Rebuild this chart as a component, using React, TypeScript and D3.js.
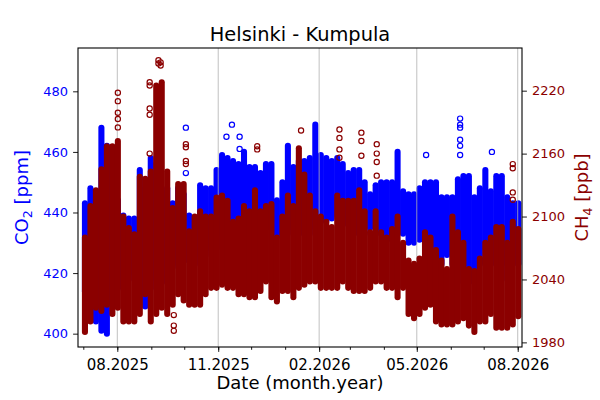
import React, { useEffect, useRef } from 'react';
import * as d3 from 'd3';

const firstBinDay = '2025-06-30';
const binDays = 5;

// CO2 [ppm]: lower and upper edge of the point cloud in each bin
const co2Low = [
  414, 411, 404, 401, 400, 413, 415, 418, 418, 420,
  409, 409, 415, 418, 417, 417, 422, 423, 424, 424,
  426, 423, 426, 428, 428, 433, 431, 433, 433, 437,
  437, 437, 437, 435, 438, 432, 433, 435, 433, 433,
  433, 435, 433, 437, 437, 438, 439, 436, 436, 433,
  433, 433, 435, 433, 433, 431, 431, 433, 433, 430,
  430, 431, 431, 425, 424, 423, 426, 423, 423, 417,
  417, 417, 423, 428, 423, 423, 423, 418, 423, 423,
];
const co2High = [
  443, 448, 447, 468, 462, 452, 444, 439, 438, 438,
  454, 448, 458, 456, 447, 448, 443, 448, 446, 439,
  438, 449, 448, 448, 454, 459, 458, 457, 456, 460,
  455, 455, 453, 456, 456, 444, 450, 462, 455, 457,
  457, 458, 469, 459, 458, 457, 458, 456, 453, 454,
  454, 450, 446, 449, 450, 450, 450, 460, 447, 446,
  446, 448, 450, 450, 450, 445, 445, 445, 451, 452,
  452, 445, 448, 454, 447, 452, 452, 445, 443, 443,
];

// CH4 [ppb]: same bins
const ch4Low = [
  1990, 2000, 2013, 2010, 2016, 2007, 2013, 2000, 2000, 2000,
  2007, 2026, 2000, 2007, 2013, 2007, 2016, 2026, 2020, 2016,
  2016, 2016, 2026, 2032, 2032, 2035, 2032, 2032, 2026, 2026,
  2023, 2023, 2029, 2038, 2023, 2019, 2029, 2029, 2023, 2032,
  2035, 2038, 2038, 2032, 2032, 2032, 2032, 2038, 2032, 2029,
  2029, 2029, 2032, 2038, 2038, 2032, 2032, 2023, 2032, 2007,
  2003, 2007, 2013, 2016, 2000, 1997, 1997, 1997, 2000, 2003,
  1996, 1990, 2000, 2000, 2007, 1994, 1994, 1994, 1997, 2005,
];
const ch4High = [
  2080, 2110, 2125, 2145, 2167, 2167, 2172, 2100, 2089, 2083,
  2138, 2136, 2143, 2225, 2228, 2143, 2108, 2131, 2131, 2086,
  2100, 2105, 2100, 2100, 2118, 2120, 2115, 2095, 2098, 2110,
  2105, 2125, 2105, 2110, 2112, 2080, 2100, 2120, 2110, 2165,
  2140, 2120, 2105, 2100, 2095, 2090, 2120, 2115, 2115, 2115,
  2125, 2105, 2085, 2105, 2085, 2080, 2088, 2100, 2075, 2058,
  2055, 2060, 2085, 2080, 2068, 2058, 2050, 2100, 2085, 2075,
  2050, 2048, 2060, 2075, 2080, 2090, 2090, 2075, 2095, 2088,
];

// single points standing out of the cloud
const co2SpikeDays = [
  '2025-10-02', '2025-10-02', '2025-11-08', '2025-11-13', '2025-11-20', '2025-11-20',
  '2026-05-09', '2026-06-09', '2026-06-09', '2026-06-09', '2026-06-09', '2026-06-09',
  '2026-06-09', '2026-07-08',
];
const co2SpikeValues = [468, 453, 465, 469, 465, 461, 459, 471, 469, 468, 464, 462, 459, 460];

const ch4SpikeDays = [
  '2025-08-01', '2025-08-01', '2025-08-01', '2025-08-01', '2025-08-01',
  '2025-08-30', '2025-08-30', '2025-08-30', '2025-08-30', '2025-08-30',
  '2025-09-07', '2025-09-07', '2025-09-09', '2025-09-09',
  '2025-09-21', '2025-09-21', '2025-09-21',
  '2025-10-02', '2025-10-02', '2025-10-02', '2025-10-02',
  '2025-12-06', '2025-12-06', '2026-01-15',
  '2026-02-19', '2026-02-19', '2026-02-19', '2026-02-19',
  '2026-03-11', '2026-03-11', '2026-03-11',
  '2026-03-25', '2026-03-25', '2026-03-25', '2026-03-25',
  '2026-07-27', '2026-07-27', '2026-07-27', '2026-07-27',
];
const ch4SpikeValues = [
  2218, 2210, 2199, 2193, 2185,
  2228, 2225, 2203, 2197, 2160,
  2249, 2246, 2247, 2244,
  2006, 1996, 1991,
  2169, 2166, 2153, 2150,
  2167, 2164, 2182,
  2183, 2175, 2164, 2156,
  2180, 2172, 2158,
  2169, 2160, 2152, 2139,
  2150, 2146, 2123, 2116,
];

const monthTicks = ['2025-08-01', '2025-11-01', '2026-02-01', '2026-05-01', '2026-08-01'];
const co2Ticks = [400, 420, 440, 460, 480];
const ch4Ticks = [1980, 2040, 2100, 2160, 2220];

const CO2_COLOR = '#0000ff';
const CH4_COLOR = '#8b0000';
const FONT = 'DejaVu Sans, sans-serif';

const App: React.FC = () => {
  const ref = useRef<SVGSVGElement>(null);

  useEffect(() => {
    const svg = d3.select(ref.current);
    svg.selectAll('*').remove();

    const width = 600;
    const height = 400;
    const left = 78, right = 522, top = 48, bottom = 347;

    const parse = d3.timeParse('%Y-%m-%d');
    const x = d3.scaleTime()
      .domain([new Date(2025, 5, 26, 4), new Date(2026, 7, 4, 22)])
      .range([left, right]);
    const yCo2 = d3.scaleLinear().domain([395.6, 494.3]).range([bottom, top]);
    const yCh4 = d3.scaleLinear().domain([1975.6, 2260.7]).range([bottom, top]);

    const start = parse(firstBinDay) as Date;
    const binStart = (i: number) => d3.timeDay.offset(start, i * binDays);
    const binMid = (i: number) => (x(binStart(i)) + x(binStart(i + 1))) / 2;
    const binWidth = x(binStart(1)) - x(binStart(0));
    const dayMid = (d: string) => x(d3.timeHour.offset(parse(d) as Date, 12));

    svg.append('rect').attr('width', width).attr('height', height).attr('fill', 'white');

    // each bin: a round-ended stroke from the low to the high edge of the cloud
    const drawCloud = (low: number[], high: number[], y: d3.ScaleLinear<number, number>, color: string) => {
      svg.append('g')
        .selectAll('line')
        .data(low)
        .enter()
        .append('line')
        .attr('x1', (_, i) => binMid(i))
        .attr('x2', (_, i) => binMid(i))
        .attr('y1', d => y(d))
        .attr('y2', (_, i) => y(high[i]))
        .attr('stroke', color)
        .attr('stroke-linecap', 'round')
        .attr('stroke-width', binWidth + 0.6);
    };

    const drawSpikes = (days: string[], values: number[], y: d3.ScaleLinear<number, number>, color: string) => {
      svg.append('g')
        .selectAll('circle')
        .data(values)
        .enter()
        .append('circle')
        .attr('cx', (_, i) => dayMid(days[i]))
        .attr('cy', d => y(d))
        .attr('r', 2.6)
        .attr('fill', 'none')
        .attr('stroke', color)
        .attr('stroke-width', 1.2);
    };

    // CO2 underneath
    drawCloud(co2Low, co2High, yCo2, CO2_COLOR);
    drawSpikes(co2SpikeDays, co2SpikeValues, yCo2, CO2_COLOR);

    // vertical grid at the labelled months
    const majors = monthTicks.map(d => parse(d) as Date);
    svg.append('g')
      .selectAll('line')
      .data(majors)
      .enter()
      .append('line')
      .attr('x1', d => x(d))
      .attr('x2', d => x(d))
      .attr('y1', top)
      .attr('y2', bottom)
      .attr('stroke', '#b0b0b0')
      .attr('stroke-width', 0.8);

    // CH4 on the twin axis, on top
    drawCloud(ch4Low, ch4High, yCh4, CH4_COLOR);
    drawSpikes(ch4SpikeDays, ch4SpikeValues, yCh4, CH4_COLOR);

    // frame
    svg.append('rect')
      .attr('x', left).attr('y', top)
      .attr('width', right - left).attr('height', bottom - top)
      .attr('fill', 'none').attr('stroke', 'black').attr('stroke-width', 1.1);

    // x axis: labelled quarters plus a small tick every month
    const minor = d3.timeMonth.range(new Date(2025, 6, 1), new Date(2026, 7, 2));
    svg.append('g')
      .attr('transform', `translate(0,${bottom})`)
      .call(d3.axisBottom(x).tickValues(minor).tickSize(2.8).tickFormat(() => ''))
      .call(g => g.select('.domain').remove());
    const xAxis = svg.append('g')
      .attr('transform', `translate(0,${bottom})`)
      .call(d3.axisBottom(x).tickValues(majors).tickSize(4.9).tickPadding(7)
        .tickFormat(d => d3.timeFormat('%m.%Y')(d as Date)))
      .call(g => g.select('.domain').remove());
    xAxis.selectAll('text').attr('font-family', FONT).attr('font-size', 15).attr('fill', 'black');

    const leftAxis = svg.append('g')
      .attr('transform', `translate(${left},0)`)
      .call(d3.axisLeft(yCo2).tickValues(co2Ticks).tickSize(4.9).tickPadding(5).tickFormat(d3.format('d')))
      .call(g => g.select('.domain').remove());
    leftAxis.selectAll('text').attr('font-family', FONT).attr('font-size', 13).attr('fill', CO2_COLOR);

    const rightAxis = svg.append('g')
      .attr('transform', `translate(${right},0)`)
      .call(d3.axisRight(yCh4).tickValues(ch4Ticks).tickSize(4.9).tickPadding(5).tickFormat(d3.format('d')))
      .call(g => g.select('.domain').remove());
    rightAxis.selectAll('text').attr('font-family', FONT).attr('font-size', 13).attr('fill', CH4_COLOR);

    svg.selectAll('.tick line').attr('stroke', 'black').attr('stroke-width', 0.9);

    // titles
    svg.append('text')
      .attr('x', (left + right) / 2).attr('y', 41)
      .attr('text-anchor', 'middle')
      .attr('font-family', FONT).attr('font-size', 19.4)
      .text('Helsinki - Kumpula');

    svg.append('text')
      .attr('x', (left + right) / 2).attr('y', 389)
      .attr('text-anchor', 'middle')
      .attr('font-family', FONT).attr('font-size', 18)
      .text('Date (month.year)');

    const yLabel = (xPos: number, head: string, sub: string, tail: string, color: string) => {
      const t = svg.append('text')
        .attr('transform', `translate(${xPos},${(top + bottom) / 2}) rotate(-90)`)
        .attr('text-anchor', 'middle')
        .attr('font-family', FONT).attr('font-size', 18)
        .attr('fill', color);
      t.append('tspan').text(head);
      t.append('tspan').attr('font-size', 12.6).attr('dy', 4).text(sub);
      t.append('tspan').attr('dy', -4).text(tail);
    };
    yLabel(28, 'CO', '2', ' [ppm]', CO2_COLOR);
    yLabel(588, 'CH', '4', ' [ppb]', CH4_COLOR);
  }, []);

  return (
    <div>
      <svg ref={ref} width={600} height={400} style={{ position: 'absolute', left: 0, top: 0 }} />
    </div>
  );
};

export default App;
